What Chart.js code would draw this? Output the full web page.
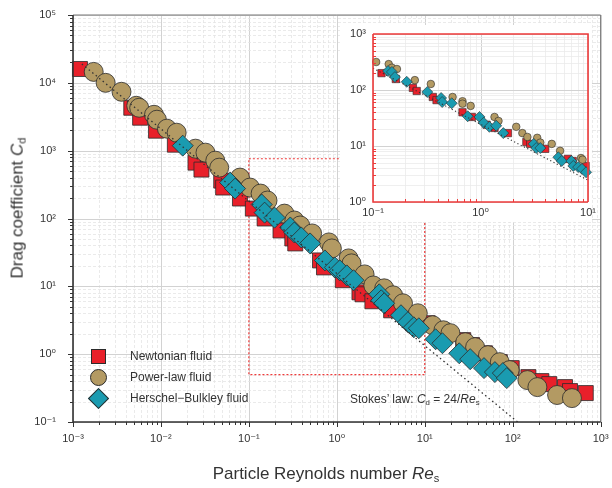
<!DOCTYPE html>
<html>
<head>
<meta charset="utf-8">
<script src="https://cdn.jsdelivr.net/npm/chart.js@4.4.1/dist/chart.umd.min.js"></script>
<style>
body{margin:0;background:#fff;font-family:"Liberation Sans",Arial,sans-serif;color:#333}
#wrap{position:relative;width:612px;height:488px;overflow:hidden}
#main{position:absolute;left:0;top:0}
#insetBg{position:absolute;left:340px;top:25px;width:252px;height:197px;background:#fff}
#inset{position:absolute;left:340px;top:25px}
.t{position:absolute;white-space:nowrap;line-height:1}
.t sub{font-size:65%;vertical-align:-0.25em}
.leg{font-size:12px;transform:translateY(-50%)}
.mk{position:absolute;box-sizing:border-box;border:1px solid #2b2b2b}
</style>
</head>
<body>
<div id="wrap">
<canvas id="main" width="612" height="488"></canvas>
<div id="insetBg"></div>
<canvas id="inset" width="264" height="197"></canvas>

<div class="t" style="left:18px;top:208px;font-size:17px;transform:translate(-50%,-50%) rotate(-90deg)">Drag coefficient <i>C</i><sub>d</sub></div>
<div class="t" style="left:326px;top:465px;font-size:17px;transform:translateX(-50%)">Particle Reynolds number <i>Re</i><sub>s</sub></div>

<div class="mk" style="left:91px;top:349px;width:15px;height:15px;background:#e8202a"></div>
<div class="mk" style="left:90px;top:369px;width:17px;height:17px;border-radius:50%;background:#b39a63"></div>
<div class="mk" style="left:91px;top:391px;width:15px;height:15px;background:#1a9bb0;transform:rotate(45deg)"></div>
<div class="t leg" style="left:130px;top:356px">Newtonian fluid</div>
<div class="t leg" style="left:130px;top:377px">Power-law fluid</div>
<div class="t leg" style="left:130px;top:398px">Herschel&minus;Bulkley fluid</div>
<div class="t leg" style="left:350px;top:400px">Stokes’ law: <i>C</i><sub>d</sub> = 24/<i>Re</i><sub>s</sub></div>
</div>

<script>
// main plot: Newtonian (squares)
const newtonRe=[0.0012,0.0046,0.0058,0.0088,0.0144,0.0247,0.0289,0.0485,0.051,0.0792,0.111,0.151,0.229,0.312,0.337,0.644,0.715,1.17,1.81,1.96,2.54,4.15,10.8,15.9,27.4,34.6,48.4,71.4,97.5,151,212,261,394,449,678]
const newtonCd=[16000,4290,3060,1970,1225,666,526,362,286,197,140,100,66.6,50.8,42.9,24.1,19,12.3,8.16,7.63,6.02,4.43,2.86,2.04,1.61,1.36,1.03,0.763,0.623,0.459,0.401,0.362,0.327,0.286,0.267]
// power-law (circles)
const powerRe=[0.00172,0.00235,0.00356,0.00524,0.00566,0.00834,0.009,0.0117,0.0151,0.0247,0.0321,0.0415,0.046,0.0792,0.103,0.136,0.163,0.254,0.329,0.384,0.524,0.813,0.879,1.36,1.47,2.07,2.6,3.46,4.37,5.66,8.34,12.3,16.3,19.6,28.9,37.4,52.4,71.4,92.5,147,191,320,472]
const powerCd=[14500,10000,7380,4590,4290,3380,2860,2110,1840,1070,935,713,562,401,286,233,184,118,93.5,78.9,60.2,44.4,36.2,25.8,21.8,15,10.3,9.35,7.37,5.62,4.01,2.67,2.25,2.04,1.5,1.27,0.967,0.763,0.582,0.415,0.327,0.25,0.225]
// Herschel-Bulkley (diamonds)
const hbRe=[0.0177,0.0612,0.0697,0.14,0.151,0.196,0.296,0.329,0.394,0.497,0.733,0.95,1.08,1.3,1.55,3.04,3.2,3.46,5.37,6.44,7.52,8.57,13.3,15.9,24.7,32.9,47.2,62.8,77.3,85.7]
const hbCd=[1185,338,276,161,122,103,73.8,62.3,52.6,42.9,24.1,19,17.2,14.5,12.3,7.63,6.22,5.62,3.75,2.96,2.49,2.41,1.66,1.45,1.03,0.844,0.623,0.544,0.526,0.444]
const stokesRe=[0.00126,114]
const stokesCd=[19000,0.1]
const boxRe=[0.1,10,10,0.1,0.1]
const boxCd=[760,760,0.5,0.5,760]
const mainXTicks=[1e-3,1e-2,1e-1,1,10,100,1000]
const mainYTicks=[0.1,1,10,100,1000,10000,100000]

// inset (0.1 < Re < 10)
const inNewtonRe=[0.12,0.163,0.235,0.255,0.36,0.39,0.68,0.83,1.14,1.35,1.8,2.67,2.9,4.0,6.5,7.2,9.5]
const inNewtonCd=[200,157,109,96,75,66,40,33,24,21,17,11.8,10.9,8.9,5.9,5.4,4.4]
const inPowerRe=[0.107,0.14,0.15,0.167,0.245,0.345,0.55,0.68,0.68,0.81,1.35,1.47,2.15,2.45,2.73,3.37,3.6,4.6,5.5,8.6,8.9]
const inPowerCd=[316,290,250,237,150,128,75,63,57,52,33,28,22,17,14.5,14,11.5,10.9,8.2,6.1,5.7]
const inHbRe=[0.138,0.15,0.16,0.206,0.32,0.43,0.44,0.54,0.76,0.98,1.07,1.21,1.4,1.63,3.13,3.3,3.6,5.3,5.7,7.0,7.3,8.1,8.8,9.6]
const inHbCd=[218,210,170,140,92,72,61,58,34,33,26,22,23,17,10.9,9.2,9.2,6.3,5.4,5.4,4.4,4.2,3.9,3.4]
const inStokesRe=[0.1,10]
const inStokesCd=[245,2.45]
const inXTicks=[0.1,1,10]
const inYTicks=[1,10,100,1000]

const RED='#e8202a',TAN='#b39a63',TEAL='#1a9bb0',EDGE='#2b2b2b'
const FONT='"Liberation Sans", Arial, "DejaVu Sans", sans-serif'

function pts(xs,ys){return xs.map((x,i)=>({x:x,y:ys[i]}))}

const sup={'-':'⁻','0':'⁰','1':'¹','2':'²','3':'³','4':'⁴','5':'⁵','6':'⁶'}
function pow10(v){
let e=Math.round(Math.log10(v))
return '10'+String(e).split('').map(c=>sup[c]).join('')
}

// log grid, tick marks and frame
const logGrid={
id:'logGrid',
beforeDatasetsDraw(chart,args,o){
let {ctx,chartArea:a,scales:{x,y}}=chart
ctx.save()
lines(x).forEach(l=>{
ctx.beginPath()
ctx.strokeStyle=l.major?o.major:o.minor
ctx.lineWidth=l.major?1:0.8
ctx.setLineDash(l.major?[]:o.dash)
ctx.moveTo(Math.round(l.p)+0.5,a.top);ctx.lineTo(Math.round(l.p)+0.5,a.bottom);ctx.stroke()
})
lines(y).forEach(l=>{
ctx.beginPath()
ctx.strokeStyle=l.major?o.major:o.minor
ctx.lineWidth=l.major?1:0.8
ctx.setLineDash(l.major?[]:o.dash)
ctx.moveTo(a.left,Math.round(l.p)+0.5);ctx.lineTo(a.right,Math.round(l.p)+0.5);ctx.stroke()
})
ctx.restore()
},
afterDraw(chart,args,o){
let {ctx,chartArea:a,scales:{x,y}}=chart
ctx.save()
ctx.setLineDash([])
ctx.strokeStyle=o.tickColor
ctx.lineWidth=1
let d=o.out?1:-1
lines(x).forEach(l=>{
let len=l.major?o.tickMajor:o.tickMinor
ctx.beginPath();ctx.moveTo(Math.round(l.p)+0.5,a.bottom);ctx.lineTo(Math.round(l.p)+0.5,a.bottom+d*len);ctx.stroke()
})
lines(y).forEach(l=>{
let len=l.major?o.tickMajor:o.tickMinor
ctx.beginPath();ctx.moveTo(a.left,Math.round(l.p)+0.5);ctx.lineTo(a.left-d*len,Math.round(l.p)+0.5);ctx.stroke()
})
ctx.strokeStyle=o.frame2;ctx.lineWidth=o.frame2W
ctx.beginPath();ctx.moveTo(a.left,a.top);ctx.lineTo(a.right,a.top);ctx.lineTo(a.right,a.bottom);ctx.stroke()
ctx.strokeStyle=o.frame;ctx.lineWidth=o.frameW
ctx.beginPath();ctx.moveTo(a.left,a.top);ctx.lineTo(a.left,a.bottom);ctx.lineTo(a.right,a.bottom);ctx.stroke()
ctx.restore()
}
}

function lines(s){
let e0=Math.floor(Math.log10(s.min)),e1=Math.ceil(Math.log10(s.max))
let out=[]
for(let e=e0;e<=e1;e++){
for(let k=1;k<10;k++){
let v=k*Math.pow(10,e)
if(v>=s.min*0.999&&v<=s.max*1.001)out.push({p:s.getPixelForValue(v),major:k==1})
}
}
return out
}

function axis(min,max,ticks,size,pad,fsize,isX){
let s={type:'logarithmic',min:min,max:max,
afterBuildTicks:sc=>{sc.ticks=ticks.map(v=>({value:v}))},
grid:{display:false,drawTicks:false},
border:{display:false},
ticks:{callback:v=>pow10(v),color:'#333',font:{family:FONT,size:fsize},padding:pad,maxRotation:0,autoSkip:false}}
s.afterFit=sc=>{
if(isX)sc.height=size
else sc.width=size
sc.paddingLeft=0;sc.paddingRight=0;sc.paddingTop=0;sc.paddingBottom=0
}
return s
}

new Chart(document.getElementById('main'),{
type:'scatter',
data:{datasets:[
{label:'Stokes',data:pts(stokesRe,stokesCd),showLine:true,pointRadius:0,borderColor:'#333',borderWidth:1.3,borderDash:[1.5,3],order:0},
{label:'Herschel-Bulkley fluid',data:pts(hbRe,hbCd),pointStyle:'rectRot',pointRadius:10.5,backgroundColor:TEAL,borderColor:EDGE,borderWidth:0.8,clip:false,order:1},
{label:'Power-law fluid',data:pts(powerRe,powerCd),pointStyle:'circle',pointRadius:9.5,backgroundColor:TAN,borderColor:EDGE,borderWidth:0.8,clip:false,order:2},
{label:'Newtonian fluid',data:pts(newtonRe,newtonCd),pointStyle:'rect',pointRadius:10.6,backgroundColor:RED,borderColor:EDGE,borderWidth:0.8,clip:false,order:3},
{label:'box',data:pts(boxRe,boxCd),showLine:true,pointRadius:0,borderColor:'#ee3b3b',borderWidth:1.2,borderDash:[2,2],order:4}
]},
options:{
responsive:false,animation:false,
layout:{padding:{top:15,right:5,left:0,bottom:0}},
plugins:{legend:{display:false},tooltip:{enabled:false},
logGrid:{major:'#d2d2d2',minor:'#e4e4e4',dash:[3,2],tickColor:'#333',tickMajor:5,tickMinor:3,out:true,frame:'#333',frameW:1.6,frame2:'#777',frame2W:1}},
scales:{
x:axis(1e-3,1e3,mainXTicks,66,10,11,true),
y:axis(0.1,1e5,mainYTicks,73,17,11,false)
}
},
plugins:[logGrid]
})

new Chart(document.getElementById('inset'),{
type:'scatter',
data:{datasets:[
{label:'Stokes',data:pts(inStokesRe,inStokesCd),showLine:true,pointRadius:0,borderColor:'#333',borderWidth:1.1,borderDash:[1.2,2.5],order:0},
{label:'Herschel-Bulkley fluid',data:pts(inHbRe,inHbCd),pointStyle:'rectRot',pointRadius:5.5,backgroundColor:TEAL,borderColor:EDGE,borderWidth:0.6,clip:false,order:1},
{label:'Newtonian fluid',data:pts(inNewtonRe,inNewtonCd),pointStyle:'rect',pointRadius:5.2,backgroundColor:RED,borderColor:EDGE,borderWidth:0.6,clip:false,order:3},
{label:'Power-law fluid',data:pts(inPowerRe,inPowerCd),pointStyle:'circle',pointRadius:3.8,backgroundColor:TAN,borderColor:EDGE,borderWidth:0.6,clip:false,order:2}
]},
options:{
responsive:false,animation:false,
layout:{padding:{top:9,right:16,left:0,bottom:0}},
plugins:{legend:{display:false},tooltip:{enabled:false},
logGrid:{major:'#d2d2d2',minor:'#ebebeb',dash:[],tickColor:'#ee3b3b',tickMajor:0,tickMinor:3,out:false,frame:'#ee3b3b',frameW:1.6,frame2:'#ee3b3b',frame2W:1.6}},
scales:{
x:axis(0.1,10,inXTicks,20,4,11,true),
y:axis(1,1000,inYTicks,33,7,11,false)
}
},
plugins:[logGrid]
})
</script>
</body>
</html>
